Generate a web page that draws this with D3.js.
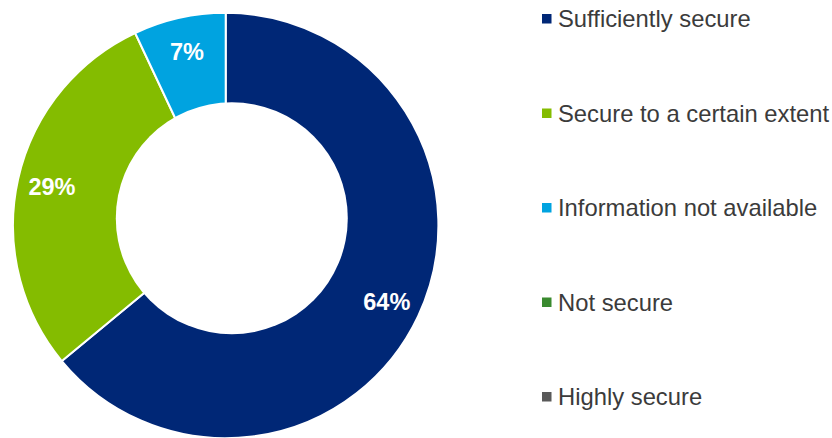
<!DOCTYPE html>
<html>
<head>
<meta charset="utf-8">
<script src="https://cdn.jsdelivr.net/npm/d3@7"></script>
<style>
  html, body { margin: 0; padding: 0; background: #fff; }
  svg { display: block; }
</style>
</head>
<body>
<svg id="chart" width="832" height="438"></svg>
<script>
// Survey answers and their shares (percent)
const categories = [
  "Sufficiently secure",
  "Secure to a certain extent",
  "Information not available",
  "Not secure",
  "Highly secure"
];
const values = [64, 29, 7, 0, 0];
const colors = ["#002776", "#84bc00", "#00a3e0", "#3a8a2f", "#595959"];

const svg = d3.select("#chart");

const cx = 225.7, cy = 225.5, outerR = 212.7;
const holeCx = 231.8, holeCy = 218.2, holeR = 116;
const labelR = 178;

const pie = d3.pie().sort(null).value(d => d.value);
const arcs = pie(categories.map((c, i) => ({ name: c, value: values[i], color: colors[i] })));

const arc = d3.arc().innerRadius(0).outerRadius(outerR);
const labelArc = d3.arc().innerRadius(labelR).outerRadius(labelR);

const g = svg.append("g").attr("transform", `translate(${cx},${cy})`);

g.selectAll("path.slice")
  .data(arcs.filter(d => d.data.value > 0))
  .join("path")
  .attr("class", "slice")
  .attr("d", arc)
  .attr("fill", d => d.data.color)
  .attr("stroke", "#fff")
  .attr("stroke-width", 2)
  .attr("stroke-linejoin", "round");

// doughnut hole
svg.append("circle")
  .attr("cx", holeCx)
  .attr("cy", holeCy)
  .attr("r", holeR)
  .attr("fill", "#fff");

// percentage labels
g.selectAll("text.pct")
  .data(arcs.filter(d => d.data.value > 0))
  .join("text")
  .attr("class", "pct")
  .attr("transform", d => `translate(${labelArc.centroid(d)})`)
  .attr("text-anchor", "middle")
  .attr("dy", "0.36em")
  .attr("fill", "#fff")
  .attr("font-family", "Liberation Sans, Arial, sans-serif")
  .attr("font-weight", "bold")
  .attr("font-size", "23.5px")
  .text(d => d.data.value + "%");

// legend
const legendY = d3.scalePoint().domain(categories).range([27, 405]);
const legend = svg.append("g");
const items = legend.selectAll("g.item")
  .data(categories.map((c, i) => ({ name: c, color: colors[i] })))
  .join("g")
  .attr("class", "item")
  .attr("transform", d => `translate(0,${legendY(d.name)})`);

items.append("rect")
  .attr("x", 542)
  .attr("y", -13)
  .attr("width", 9.5)
  .attr("height", 9.5)
  .attr("fill", d => d.color);

items.append("text")
  .attr("x", 558)
  .attr("y", 0)
  .attr("fill", "#3b3b3b")
  .attr("font-family", "Liberation Sans, Arial, sans-serif")
  .attr("font-size", "23.8px")
  .text(d => d.name);
</script>
</body>
</html>
